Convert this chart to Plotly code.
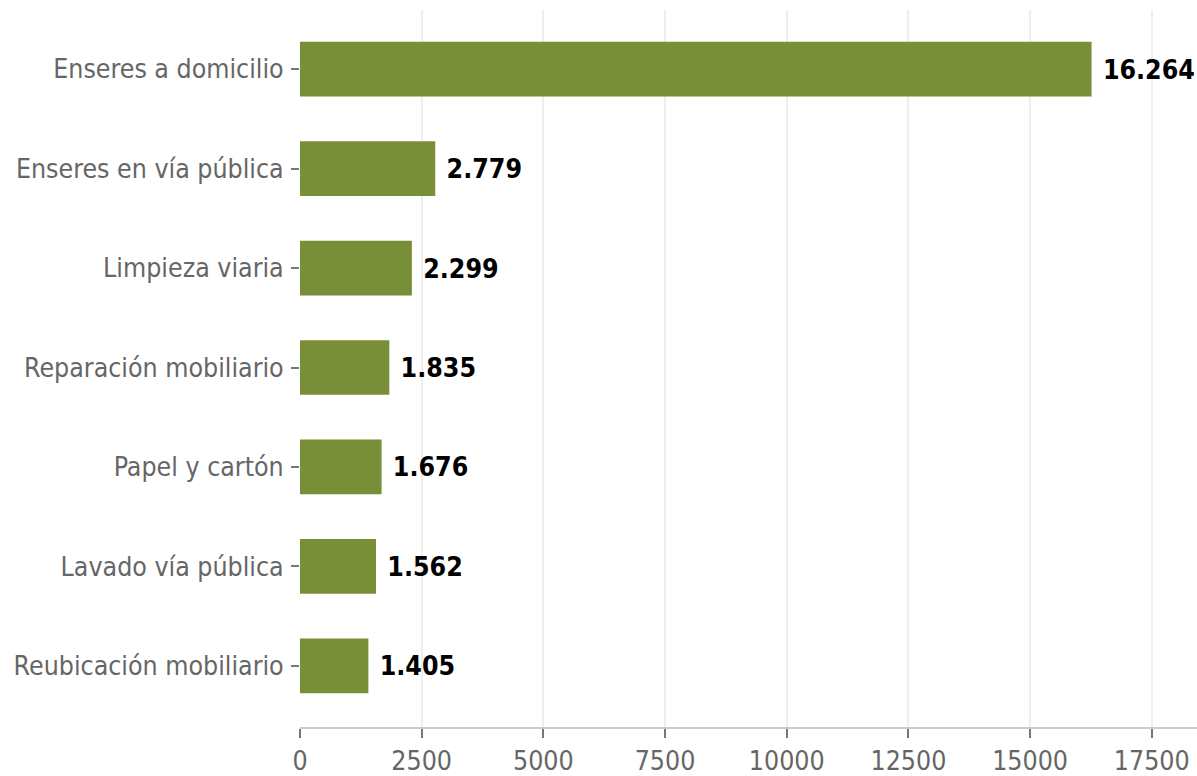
import plotly.graph_objects as go

categories = ["Enseres a domicilio", "Enseres en vía pública", "Limpieza viaria",
              "Reparación mobiliario", "Papel y cartón", "Lavado vía pública",
              "Reubicación mobiliario"]
values = [16264, 2779, 2299, 1835, 1676, 1562, 1405]
x_ticks = [0, 2500, 5000, 7500, 10000, 12500, 15000, 17500]

FONT = "DejaVu Sans Condensed, DejaVu Sans"

fig = go.Figure(go.Bar(
    x=values, y=categories, orientation="h",
    marker=dict(color="#788f38", line=dict(width=0)),
    width=0.55,
    text=values, texttemplate="\u00a0%{x:,}", textposition="outside",
    textfont=dict(family=FONT, size=26.5, color="#000000", weight="bold"),
    cliponaxis=False,
))

fig.update_layout(
    width=1197, height=776,
    margin=dict(l=300, r=0, t=10, b=45),
    plot_bgcolor="white", paper_bgcolor="white",
    separators=",.",
    showlegend=False,
    font=dict(family=FONT, size=26.5, color="#666666"),
    xaxis=dict(range=[0, 18430], tickvals=x_ticks, showgrid=True, gridcolor="#eeeeee",
               gridwidth=1.5, zeroline=False, showline=True, linecolor="#cccccc", linewidth=2,
               ticks="outside", ticklen=9, tickcolor="#777777", tickwidth=2,
               tickfont=dict(size=26.5, color="#666666"), tickformat="d"),
    yaxis=dict(categoryorder="array", categoryarray=categories, autorange=False,
               range=[6.615, -0.595], showgrid=False, zeroline=False, showline=False,
               ticks="outside", ticklen=8, tickcolor="#777777", tickwidth=2,
               tickfont=dict(size=26.5, color="#666666"), ticklabelstandoff=2),
)

fig.write_html("out.html", config={"displayModeBar": False},
               post_script="document.body.style.margin='0';")
